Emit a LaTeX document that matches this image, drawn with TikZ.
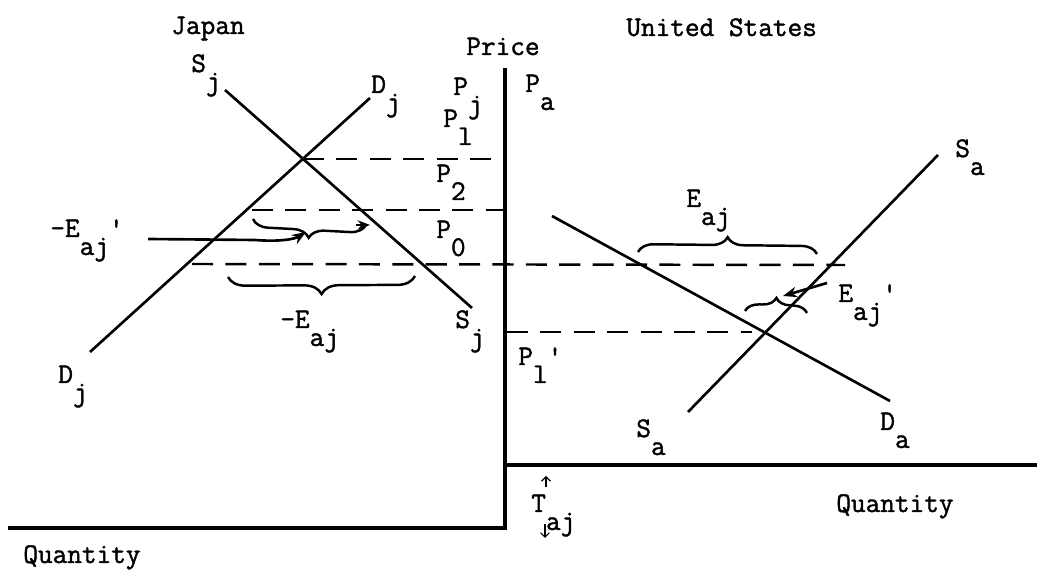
\documentclass[tikz,border=0pt]{standalone}
\usepackage{fontspec}
\usetikzlibrary{arrows.meta,decorations.pathreplacing}
\newfontfamily\typew{Latin Modern Mono}[FakeBold=1.4]
\newcommand{\lowsub}[1]{\raisebox{-0.63em}{#1}}

\begin{document}
\begin{tikzpicture}[x=0.02cm,y=-0.02cm,
    curve/.style={line width=1.5pt},
    axis/.style={line width=1.8pt},
    level/.style={line width=1.4pt,dash pattern=on 12pt off 7pt},
    brc/.style={decorate,decoration={brace,amplitude=#1},line width=1.4pt},
    lbl/.style={font=\typew\fontsize{16.2}{18}\selectfont,inner sep=0pt,anchor=base west}]
  \useasboundingbox (0,0) rectangle (1039,573);
  % axes
  \draw[axis] (8,528) -- (505,528) -- (505,68);
  \draw[axis] (505,465) -- (1037,465);
  % Japan: supply and demand
  \coordinate (sj1) at (225,90);   \coordinate (sj2) at (472,308);
  \coordinate (dj1) at (90,352);   \coordinate (dj2) at (370,98);
  \draw[curve] (sj1) -- (sj2);
  \draw[curve] (dj1) -- (dj2);
  % United States: supply and demand
  \coordinate (da1) at (552,216);  \coordinate (da2) at (890,401);
  \coordinate (sa1) at (688,412);  \coordinate (sa2) at (938,155);
  \draw[curve] (da1) -- (da2);
  \draw[curve] (sa1) -- (sa2);
  % price levels
  \draw[level] (303,159) -- (505,159);
  \draw[level] (252,210) -- (505,210);
  \draw[level] (192,264) -- (845,265);
  \draw[level] (507,332) -- (752,332);
  % braces
  \draw[brc=9pt] (366,225) -- (253,219);
  \draw[-{Stealth[length=7pt]},line width=1.4pt] (356,225) -- (370,225);
  \draw[brc=10pt] (415,276) -- (228,277);
  \draw[brc=9pt] (638,252) -- (817,254);
  \draw[brc=8pt] (745,311) -- (807,313);
  % arrows
  \draw[-{Stealth[length=8pt]},line width=1.5pt] (148,239) -- (255,240)
    .. controls (280,242) and (295,239) .. (306,232);
  \draw[-{Stealth[length=8pt]},line width=1.5pt] (827,283) -- (783,296);
  \draw[-{Straight Barb[length=2.5pt]},line width=0.7pt] (546,487) -- (546,476);
  \draw[-{Straight Barb[length=2.5pt]},line width=0.7pt] (545,524) -- (545,538);
  % labels
  \node[lbl] (japan) at (171,34) {Japan};
  \node[lbl] (price) at (466,55) {Price};
  \node[lbl] (us) at (626,36) {United States};
  \node[lbl] (sjt) at (191,72) {S\lowsub{j}};
  \node[lbl] (djt) at (371,93) {D\lowsub{j}};
  \node[lbl] (pj) at (453,95) {P\lowsub{j}};
  \node[lbl] (p1) at (443,127) {P\lowsub{l}};
  \node[lbl] (p2) at (436,182) {P\lowsub{2}};
  \node[lbl] (p0) at (436,238) {P\lowsub{0}};
  \node[lbl] (meajp) at (50,237) {-E\lowsub{aj}'};
  \node[lbl] (meaj) at (280,328) {-E\lowsub{aj}};
  \node[lbl] (sjb) at (455,328) {S\lowsub{j}};
  \node[lbl] (djb) at (58,383) {D\lowsub{j}};
  \node[lbl] (pa) at (525,92) {P\lowsub{a}};
  \node[lbl] (sat) at (955,157) {S\lowsub{a}};
  \node[lbl] (eaj) at (686,207) {E\lowsub{aj}};
  \node[lbl] (eajp) at (838,302) {E\lowsub{aj}'};
  \node[lbl] (p1p) at (518,365) {P\lowsub{l}'};
  \node[lbl] (sab) at (636,437) {S\lowsub{a}};
  \node[lbl] (da) at (880,430) {D\lowsub{a}};
  \node[lbl] (taj) at (531,512) {T\lowsub{aj}};
  \node[lbl] (qr) at (836,512) {Quantity};
  \node[lbl] (ql) at (23,563) {Quantity};
\end{tikzpicture}
\end{document}
